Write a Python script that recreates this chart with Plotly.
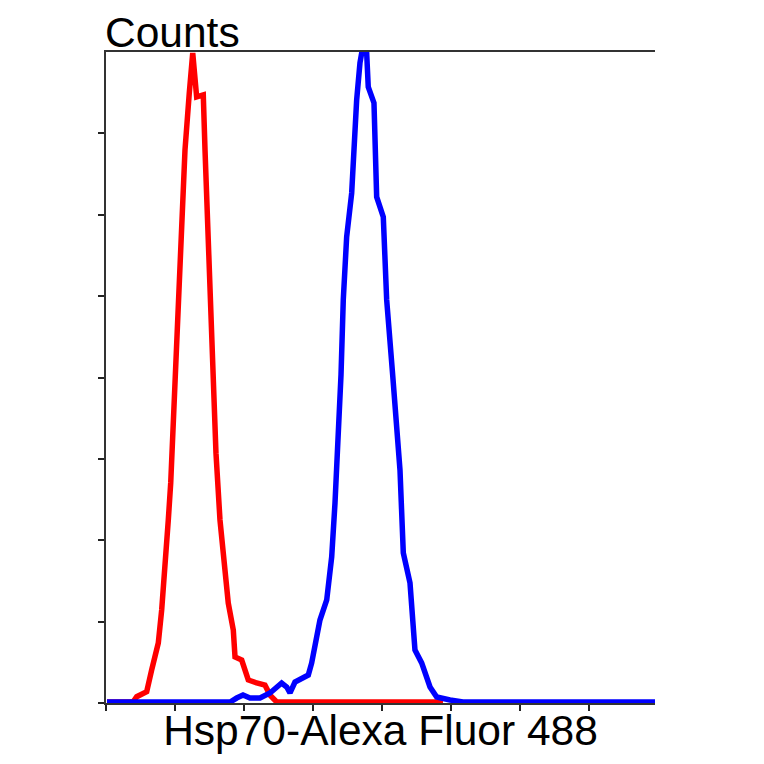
import plotly.graph_objects as go

# Fluorescence intensity (axis units, 0..8 decades) and counts
red_x = [0.014, 0.391, 0.445, 0.590, 0.662, 0.758, 0.807, 0.855, 0.903, 0.938, 0.967, 1.000,
         1.072, 1.145, 1.207, 1.257, 1.314, 1.410, 1.435, 1.483, 1.555, 1.594, 1.652, 1.725,
         1.772, 1.845, 1.870, 1.967, 2.062, 2.184, 2.304, 2.377, 2.474, 4.884]
red_y = [1.2, 1.2, 7.7, 13.9, 40.6, 73.7, 114.3, 163.5, 224.9, 270.4, 327, 403,
         556.8, 679.7, 749.7, 798.8, 744.7, 747.2, 679.7, 556.8, 403, 307, 225, 163.5,
         122.9, 89.7, 56.5, 52.8, 28.3, 24.6, 22.1, 9.8, 1.2, 1.2]

blue_x = [0.014, 1.300, 1.800, 1.894, 1.986, 2.087, 2.232, 2.377, 2.546, 2.619, 2.667, 2.739,
          2.836, 2.932, 2.981, 3.029, 3.101, 3.199, 3.246, 3.271, 3.319, 3.367, 3.406, 3.439,
          3.488, 3.561, 3.594, 3.633, 3.681, 3.706, 3.778, 3.801, 3.884, 3.923, 4.019, 4.068,
          4.155, 4.213, 4.261, 4.309, 4.406, 4.478, 4.575, 4.696, 4.793, 4.986, 5.174, 7.957]
blue_y = [1.2, 1.2, 1.2, 6.1, 9.8, 6.1, 6.1, 12.3, 24.6, 19.7, 12.3, 25.8,
          30.7, 34.4, 49.2, 73.7, 102, 126.6, 154.9, 179.5, 245.8, 327, 403, 495.3,
          572.8, 626.8, 679.7, 741, 786.6, 798.8, 798.8, 757, 737.4, 621.9, 597.3, 495.3,
          403, 347.8, 286.4, 184.4, 147.5, 65.1, 49.2, 19.7, 7.4, 3.7, 1.2, 1.2]

x_ticks = [0, 1, 2, 3, 4, 5, 6, 7]
y_ticks = [0, 100, 200, 300, 400, 500, 600, 700]

fig = go.Figure()
fig.add_trace(go.Scatter(x=red_x, y=red_y, mode="lines",
                         line=dict(color="#ff0000", width=5.5), hoverinfo="skip"))
fig.add_trace(go.Scatter(x=blue_x, y=blue_y, mode="lines",
                         line=dict(color="#0000ff", width=5.5), hoverinfo="skip"))

axis_font = dict(family="Liberation Sans, Arial, sans-serif", size=42.5, color="black")

fig.update_layout(
    width=764, height=764,
    margin=dict(l=98, r=117, t=44, b=69),
    paper_bgcolor="white", plot_bgcolor="white",
    showlegend=False,
    xaxis=dict(range=[0, 7.957], tickvals=x_ticks, ticktext=[""] * len(x_ticks),
               ticks="outside", ticklen=6, tickwidth=1.5, tickcolor="#222",
               showline=True, linecolor="#333", linewidth=1.5, mirror=True,
               showgrid=False, zeroline=False,
               title=dict(text="Hsp70-Alexa Fluor 488", font=axis_font, standoff=3)),
    yaxis=dict(range=[0, 800], tickvals=y_ticks, ticktext=[""] * len(y_ticks),
               ticks="outside", ticklen=6, tickwidth=1.5, tickcolor="#222",
               showline=True, linecolor="#333", linewidth=1.5, mirror=False,
               showgrid=False, zeroline=False),
    annotations=[dict(text="Counts", xref="paper", yref="paper", x=0, y=1,
                      xanchor="left", yanchor="bottom", showarrow=False,
                      xshift=-3, yshift=-6, font=axis_font)],
)

fig.write_html("out.html")
